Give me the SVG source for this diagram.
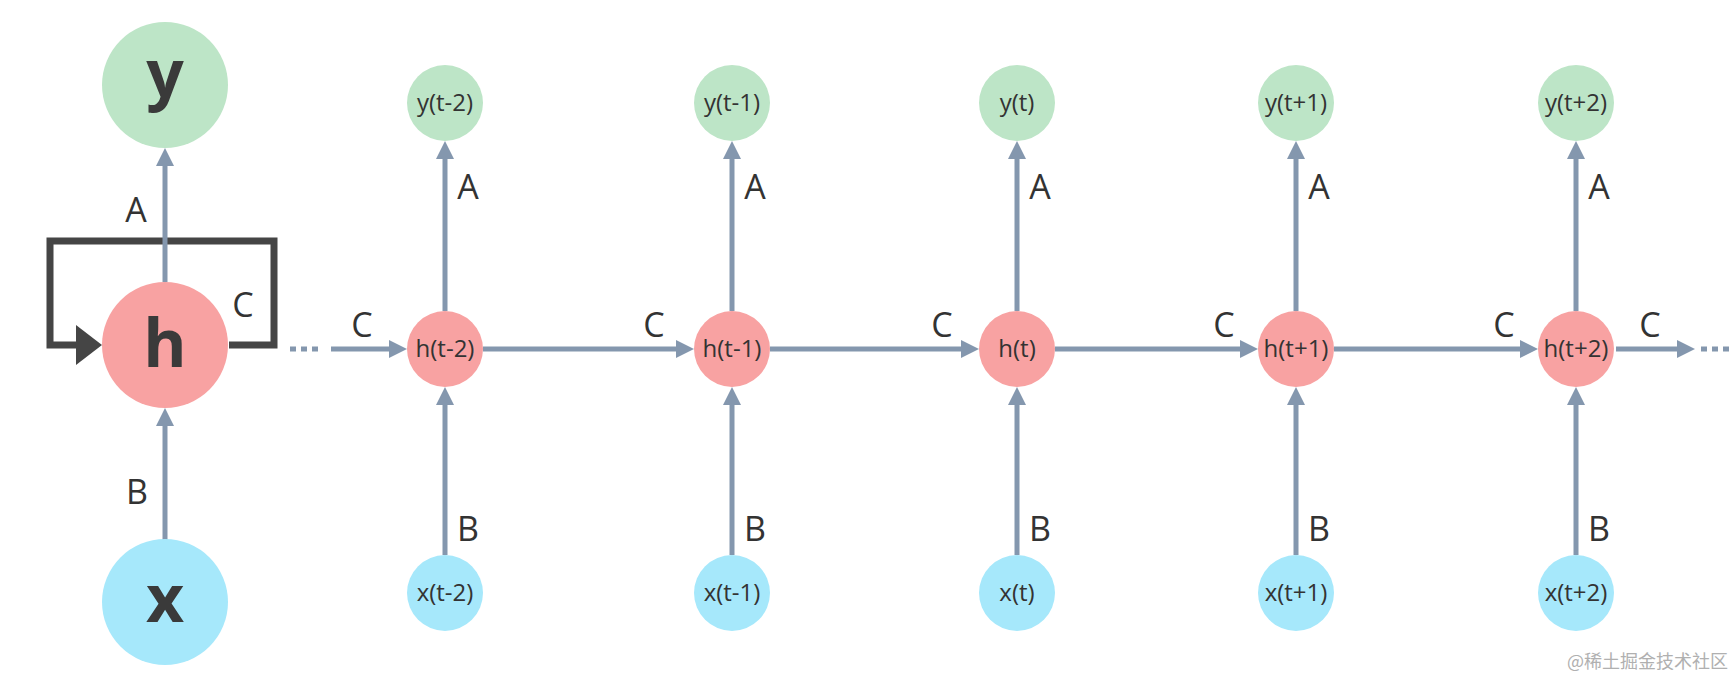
<svg xmlns="http://www.w3.org/2000/svg" width="1736" height="678" viewBox="0 0 1736 678">
<defs>
<style>
.g{fill:#bde5c7}.r{fill:#f8a2a2}.c{fill:#a6e8fb}
.e{stroke:#8497ae;stroke-width:5;fill:none}
.d{stroke:#8497ae;stroke-width:5;fill:none;stroke-dasharray:6 5}
.lb{font-family:"Open Sans","Liberation Sans",sans-serif;font-size:34px;fill:#333;text-anchor:middle}
.nt{font-family:"Open Sans","Liberation Sans",sans-serif;font-size:24px;font-weight:500;fill:#333;text-anchor:middle}
.bt{font-family:"Open Sans","Liberation Sans",sans-serif;font-size:66px;font-weight:700;fill:#3a3a3a;text-anchor:middle}
.wm{font-family:"Noto Sans CJK SC",sans-serif;font-size:18px;fill:#b0b0b0;text-anchor:end}
</style>
<marker id="ah" markerUnits="userSpaceOnUse" markerWidth="20" markerHeight="20" refX="2" refY="9" orient="auto">
<path d="M0,0 L18,9 L0,18 z" fill="#8497ae"/>
</marker>
</defs>
<rect width="1736" height="678" fill="#fff"/>

<g id="loop">
<path d="M229,345 H274 V241 H50 V345 H78" stroke="#454545" stroke-width="7" fill="none"/>
<polygon points="76,325 102,345 76,365" fill="#454545"/>
</g>

<g id="connectors">
<line class="e" x1="165" y1="282" x2="165" y2="164" marker-end="url(#ah)"/>
<line class="e" x1="165" y1="540" x2="165" y2="424" marker-end="url(#ah)"/>
<line class="d" x1="290" y1="349" x2="320" y2="349"/>
<line class="e" x1="331" y1="349" x2="391" y2="349" marker-end="url(#ah)"/>
<line class="e" x1="483" y1="349" x2="678" y2="349" marker-end="url(#ah)"/>
<line class="e" x1="770" y1="349" x2="963" y2="349" marker-end="url(#ah)"/>
<line class="e" x1="1055" y1="349" x2="1242" y2="349" marker-end="url(#ah)"/>
<line class="e" x1="1334" y1="349" x2="1522" y2="349" marker-end="url(#ah)"/>
<line class="e" x1="1616" y1="349" x2="1679" y2="349" marker-end="url(#ah)"/>
<line class="d" x1="1701" y1="349" x2="1731" y2="349"/>
<line class="e" x1="445" y1="311" x2="445" y2="157" marker-end="url(#ah)"/>
<line class="e" x1="732" y1="311" x2="732" y2="157" marker-end="url(#ah)"/>
<line class="e" x1="1017" y1="311" x2="1017" y2="157" marker-end="url(#ah)"/>
<line class="e" x1="1296" y1="311" x2="1296" y2="157" marker-end="url(#ah)"/>
<line class="e" x1="1576" y1="311" x2="1576" y2="157" marker-end="url(#ah)"/>
<line class="e" x1="445" y1="555" x2="445" y2="403" marker-end="url(#ah)"/>
<line class="e" x1="732" y1="555" x2="732" y2="403" marker-end="url(#ah)"/>
<line class="e" x1="1017" y1="555" x2="1017" y2="403" marker-end="url(#ah)"/>
<line class="e" x1="1296" y1="555" x2="1296" y2="403" marker-end="url(#ah)"/>
<line class="e" x1="1576" y1="555" x2="1576" y2="403" marker-end="url(#ah)"/>
</g>

<g id="labels">
<text class="lb" x="136" y="222">A</text>
<text class="lb" x="137" y="504">B</text>
<text class="lb" x="243" y="317">C</text>
<text class="lb" x="362" y="337">C</text>
<text class="lb" x="654" y="337">C</text>
<text class="lb" x="942" y="337">C</text>
<text class="lb" x="1224" y="337">C</text>
<text class="lb" x="1504" y="337">C</text>
<text class="lb" x="1650" y="337">C</text>
<text class="lb" x="468" y="199">A</text>
<text class="lb" x="755" y="199">A</text>
<text class="lb" x="1040" y="199">A</text>
<text class="lb" x="1319" y="199">A</text>
<text class="lb" x="1599" y="199">A</text>
<text class="lb" x="468" y="541">B</text>
<text class="lb" x="755" y="541">B</text>
<text class="lb" x="1040" y="541">B</text>
<text class="lb" x="1319" y="541">B</text>
<text class="lb" x="1599" y="541">B</text>
</g>

<g id="node-y"><circle class="g" cx="165" cy="85" r="63"/><text class="bt" x="165" y="97">y</text></g>
<g id="node-h"><circle class="r" cx="165" cy="345" r="63"/><text class="bt" x="165" y="367">h</text></g>
<g id="node-x"><circle class="c" cx="165" cy="602" r="63"/><text class="bt" x="165" y="622">x</text></g>

<g id="node-y-t-2"><circle class="g" cx="445" cy="103" r="38"/><text class="nt" x="445" y="111">y(t-2)</text></g>
<g id="node-h-t-2"><circle class="r" cx="445" cy="349" r="38"/><text class="nt" x="445" y="357">h(t-2)</text></g>
<g id="node-x-t-2"><circle class="c" cx="445" cy="593" r="38"/><text class="nt" x="445" y="601">x(t-2)</text></g>

<g id="node-y-t-1"><circle class="g" cx="732" cy="103" r="38"/><text class="nt" x="732" y="111">y(t-1)</text></g>
<g id="node-h-t-1"><circle class="r" cx="732" cy="349" r="38"/><text class="nt" x="732" y="357">h(t-1)</text></g>
<g id="node-x-t-1"><circle class="c" cx="732" cy="593" r="38"/><text class="nt" x="732" y="601">x(t-1)</text></g>

<g id="node-y-t"><circle class="g" cx="1017" cy="103" r="38"/><text class="nt" x="1017" y="111">y(t)</text></g>
<g id="node-h-t"><circle class="r" cx="1017" cy="349" r="38"/><text class="nt" x="1017" y="357">h(t)</text></g>
<g id="node-x-t"><circle class="c" cx="1017" cy="593" r="38"/><text class="nt" x="1017" y="601">x(t)</text></g>

<g id="node-y-t1"><circle class="g" cx="1296" cy="103" r="38"/><text class="nt" x="1296" y="111">y(t+1)</text></g>
<g id="node-h-t1"><circle class="r" cx="1296" cy="349" r="38"/><text class="nt" x="1296" y="357">h(t+1)</text></g>
<g id="node-x-t1"><circle class="c" cx="1296" cy="593" r="38"/><text class="nt" x="1296" y="601">x(t+1)</text></g>

<g id="node-y-t2"><circle class="g" cx="1576" cy="103" r="38"/><text class="nt" x="1576" y="111">y(t+2)</text></g>
<g id="node-h-t2"><circle class="r" cx="1576" cy="349" r="38"/><text class="nt" x="1576" y="357">h(t+2)</text></g>
<g id="node-x-t2"><circle class="c" cx="1576" cy="593" r="38"/><text class="nt" x="1576" y="601">x(t+2)</text></g>

<text class="wm" x="1728" y="668">@稀土掘金技术社区</text>
</svg>
